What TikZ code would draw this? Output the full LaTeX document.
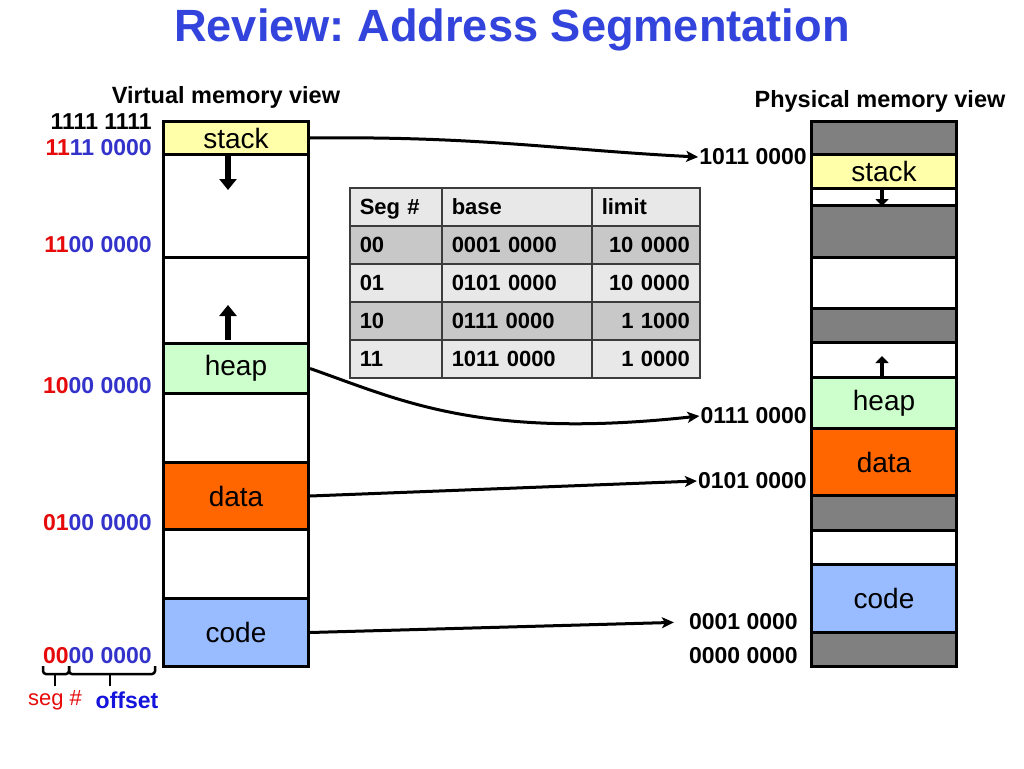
\documentclass[tikz,border=0pt]{standalone}
\usepackage{fontspec}
\setmainfont{Liberation Sans}
\usetikzlibrary{arrows.meta,positioning}
\definecolor{titleblue}{RGB}{51,68,221}
\definecolor{addrred}{RGB}{230,10,10}
\definecolor{addrblue}{RGB}{51,51,204}
\definecolor{offblue}{RGB}{20,20,220}
\definecolor{stackyellow}{RGB}{255,255,170}
\definecolor{heapgreen}{RGB}{204,255,204}
\definecolor{dataorange}{RGB}{255,102,0}
\definecolor{codeblue}{RGB}{153,187,255}
\definecolor{usedgray}{RGB}{128,128,128}
\definecolor{tablite}{RGB}{232,232,232}
\definecolor{tabdark}{RGB}{200,200,200}
\definecolor{tabline}{RGB}{60,60,60}
\newcommand\segfont{\fontsize{28}{30}\selectfont}
\newcommand\addrfont{\bfseries\fontsize{23}{26}\selectfont}
\newcommand\tabfont{\bfseries\fontsize{22}{24}\selectfont}
\frenchspacing
\begin{document}
\begin{tikzpicture}[x=1pt,y=-1pt,
  seg/.style={draw,line width=3pt,anchor=north west,minimum width=145pt,inner sep=0pt,font=\segfont},
  addr/.style={anchor=east,inner sep=1pt,font=\addrfont},
  conn/.style={line width=3pt,-{Stealth[length=12pt,width=11pt,inset=3pt]}},
  growarrow/.style={line width=6pt,-{Triangle[length=11pt,width=17pt]}},
  growtick/.style={line width=4.5pt,-{Triangle[length=7pt,width=13pt]}},
  cell/.style={draw=tabline,line width=1.5pt,anchor=north west,minimum height=38pt,inner xsep=10pt,inner ysep=0pt,
    text height=18pt,text depth=3pt,font=\tabfont},
  bracket/.style={line width=2.5pt,rounded corners=3pt}]
\fill[white] (0,0) rectangle (1024,768);
\useasboundingbox (0,0) rectangle (1024,768);

\node[font=\bfseries\fontsize{45.2}{50}\selectfont,text=titleblue] (title) at (512,30) {Review: Address Segmentation};
\node[font=\bfseries\fontsize{23.5}{26}\selectfont] (vhead) at (226,97) {Virtual memory view};
\node[font=\bfseries\fontsize{23.5}{26}\selectfont] (phead) at (880,101) {Physical memory view};

% virtual memory
\node[seg,fill=stackyellow,minimum height=33pt] (vstack) at (162,120) {stack};
\node[seg,fill=white,minimum height=103pt] (vfree1) at (162,153) {};
\node[seg,fill=white,minimum height=86pt] (vfree2) at (162,256) {};
\node[seg,fill=heapgreen,minimum height=50pt] (vheap) at (162,342) {heap};
\node[seg,fill=white,minimum height=69pt] (vfree3) at (162,392) {};
\node[seg,fill=dataorange,minimum height=67pt] (vdata) at (162,461) {data};
\node[seg,fill=white,minimum height=69pt] (vfree4) at (162,528) {};
\node[seg,fill=codeblue,minimum height=68pt] (vcode) at (162,597) {code};
\draw[growarrow] (228,155) -- (228,190);
\draw[growarrow] (228,340) -- (228,305);

\node[addr] (vtop) at (153,122) {1111 1111};
\node[addr] (va11) at (153,148) {\color{addrred}11\color{addrblue}11 0000};
\node[addr] (va10) at (153,245) {\color{addrred}11\color{addrblue}00 0000};
\node[addr] (va01) at (153,386) {\color{addrred}10\color{addrblue}00 0000};
\node[addr] (va00) at (153,523) {\color{addrred}01\color{addrblue}00 0000};
\node[addr] (vzero) at (153,656) {\color{addrred}00\color{addrblue}00 0000};
\draw[bracket] (43,666) -- (43,674) -- (69,674) -- (69,666);
\draw[bracket] (69,666) -- (69,674) -- (155,674) -- (155,666);
\draw[line width=2.5pt] (55,674) -- (55,686);
\draw[line width=2.5pt] (110,674) -- (110,686);
\node[text=addrred,font=\fontsize{22}{24}\selectfont] (segno) at (55,700) {seg \#};
\node[text=offblue,font=\addrfont] (offset) at (127,700) {offset};

% segment table
\foreach \r/\s/\b/\l/\shade in {1/00/0001 0000/10 0000/tabdark,2/01/0101 0000/10 0000/tablite,3/10/0111 0000/1 1000/tabdark,4/11/1011 0000/1 0000/tablite}{
  \node[cell,fill=\shade,minimum width=92pt,text width=72pt,align=left] (seg\r) at (349,187+38*\r) {\s};
  \node[cell,fill=\shade,minimum width=150pt,text width=130pt,align=left] (base\r) at (441,187+38*\r) {\b};
  \node[cell,fill=\shade,minimum width=108pt,text width=88pt,align=right] (limit\r) at (591,187+38*\r) {\l};
}
\node[cell,fill=tablite,minimum width=92pt,text width=72pt,align=left] (seg0) at (349,187) {Seg \#};
\node[cell,fill=tablite,minimum width=150pt,text width=130pt,align=left] (base0) at (441,187) {base};
\node[cell,fill=tablite,minimum width=108pt,text width=88pt,align=left] (limit0) at (591,187) {limit};

% physical memory
\node[seg,fill=usedgray,minimum height=33pt] (pused1) at (810,120) {};
\node[seg,fill=stackyellow,minimum height=34pt] (pstack) at (810,153) {stack};
\node[seg,fill=white,minimum height=17pt] (pfree1) at (810,187) {};
\node[seg,fill=usedgray,minimum height=52pt] (pused2) at (810,204) {};
\node[seg,fill=white,minimum height=51pt] (pfree2) at (810,256) {};
\node[seg,fill=usedgray,minimum height=34pt] (pused3) at (810,307) {};
\node[seg,fill=white,minimum height=35pt] (pfree3) at (810,341) {};
\node[seg,fill=heapgreen,minimum height=51pt] (pheap) at (810,376) {heap};
\node[seg,fill=dataorange,minimum height=67pt] (pdata) at (810,427) {data};
\node[seg,fill=usedgray,minimum height=35pt] (pused4) at (810,494) {};
\node[seg,fill=white,minimum height=34pt] (pfree4) at (810,529) {};
\node[seg,fill=codeblue,minimum height=68pt] (pcode) at (810,563) {code};
\node[seg,fill=usedgray,minimum height=34pt] (pused5) at (810,631) {};
\draw[growtick] (882,187) -- (882,206);
\draw[growtick] (882,376) -- (882,356);

\node[addr] (pstackaddr) at (808,157) {1011 0000};
\node[addr] (pheapaddr) at (808,416) {0111 0000};
\node[addr] (pdataaddr) at (808,481) {0101 0000};
\node[addr] (pcodeaddr) at (799,622) {0001 0000};
\node[addr] (pzero) at (799,656) {0000 0000};

% translation arrows
\draw[conn] (vstack.east) .. controls (480,136) and (560,150) .. (pstackaddr.west);
\draw[conn] (vheap.east) .. controls (400,400) and (480,440) .. (pheapaddr.west);
\draw[conn] (vdata.east) -- (pdataaddr.west);
\draw[conn,shorten >=14pt] (vcode.east) -- (pcodeaddr.west);
\end{tikzpicture}
\end{document}
